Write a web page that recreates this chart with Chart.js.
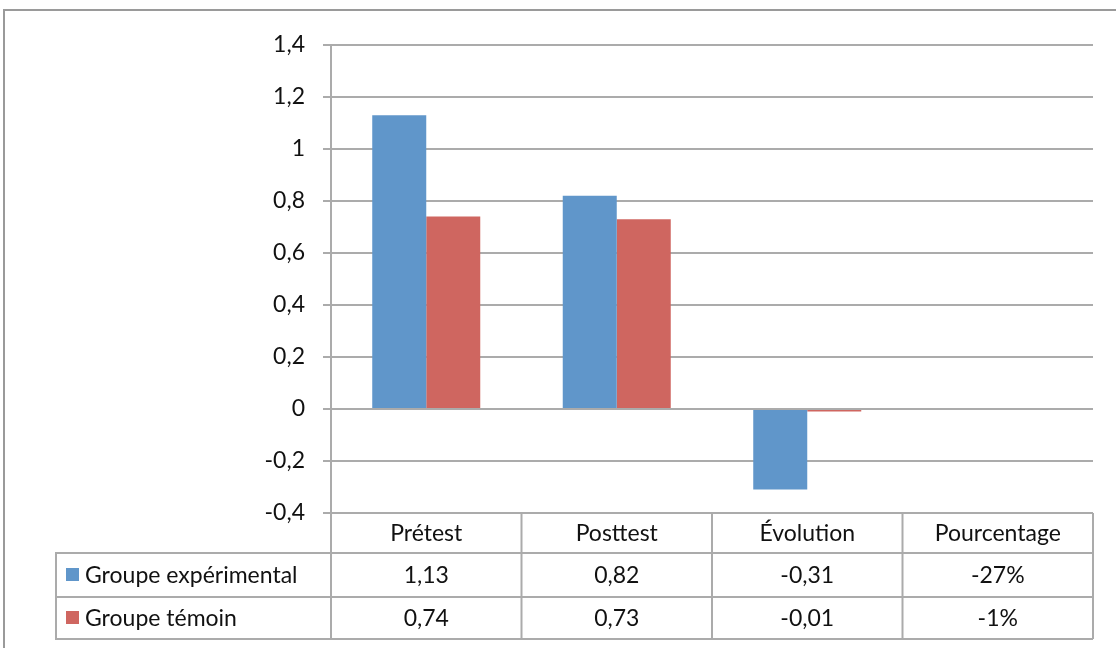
<!DOCTYPE html>
<html><head><meta charset="utf-8">
<script src="https://cdn.jsdelivr.net/npm/chart.js@4"></script>
<style>html,body{margin:0;padding:0;background:#fff;overflow:hidden}#wrap{width:1116px;height:648px;position:relative}</style>
</head><body><div id="wrap"><canvas id="c" width="1116" height="648"></canvas></div>
<script>
const categories = ['Prétest', 'Posttest', 'Évolution', 'Pourcentage'];
const seriesNames = ['Groupe expérimental', 'Groupe témoin'];
const experimental = [1.13, 0.82, -0.31, null];
const temoin = [0.74, 0.73, -0.01, null];
const experimentalTable = ['1,13', '0,82', '-0,31', '-27%'];
const temoinTable = ['0,74', '0,73', '-0,01', '-1%'];
const yTicks = [-0.4, -0.2, 0, 0.2, 0.4, 0.6, 0.8, 1, 1.2, 1.4];

const BLUE = '#6096ca';
const RED = '#cf6660';
const GRID = '#ababab';
const FONT = 'Lato, "Open Sans", sans-serif';
const FSIZE = 23;

const tablePlugin = {
  id: 'dataTable',
  afterDraw(chart) {
    const ctx = chart.ctx;
    const a = chart.chartArea;
    const xs = chart.scales.x;
    const n = categories.length;
    const colW = (a.right - a.left) / n;
    const top = a.bottom;
    const r1 = top + 40, r2 = r1 + 44, r3 = r2 + 42;
    const legLeft = 56;
    ctx.save();
    // outer border
    ctx.strokeStyle = '#9a9a9a';
    ctx.lineWidth = 2;
    ctx.beginPath();
    ctx.moveTo(4, 648); ctx.lineTo(4, 10); ctx.lineTo(1116, 10);
    ctx.stroke();
    // table lines
    ctx.strokeStyle = GRID;
    ctx.lineWidth = 2;
    ctx.beginPath();
    [r1, r2, r3].forEach(y => { ctx.moveTo(legLeft, y); ctx.lineTo(a.right, y); });
    for (let i = 0; i <= n; i++) {
      const x = a.left + i * colW;
      ctx.moveTo(x, top); ctx.lineTo(x, r3);
    }
    ctx.moveTo(legLeft, r1 - 1); ctx.lineTo(legLeft, r3 + 1);
    ctx.stroke();
    // texts
    ctx.fillStyle = '#111';
    ctx.font = FSIZE + 'px ' + FONT;
    ctx.textAlign = 'center';
    ctx.textBaseline = 'middle';
    for (let i = 0; i < n; i++) {
      const cx = xs.getPixelForTick(i);
      ctx.fillText(categories[i], cx, (top + r1) / 2 + 1);
      ctx.fillText(experimentalTable[i], cx, (r1 + r2) / 2 + 1);
      ctx.fillText(temoinTable[i], cx, (r2 + r3) / 2 + 1);
    }
    // legend keys
    const cols = [BLUE, RED];
    const rows = [(r1 + r2) / 2, (r2 + r3) / 2];
    ctx.textAlign = 'left';
    for (let s = 0; s < 2; s++) {
      ctx.fillStyle = cols[s];
      ctx.fillRect(66, rows[s] - 7, 13, 13);
      ctx.fillStyle = '#111';
      ctx.fillText(seriesNames[s], 85, rows[s] + 1);
    }
    ctx.restore();
  }
};

new Chart(document.getElementById('c'), {
  type: 'bar',
  data: {
    labels: categories,
    datasets: [
      { label: seriesNames[0], data: experimental, backgroundColor: BLUE, borderWidth: 0 },
      { label: seriesNames[1], data: temoin, backgroundColor: RED, borderWidth: 0 }
    ]
  },
  options: {
    responsive: false,
    devicePixelRatio: 1,
    animation: false,
    categoryPercentage: 0.567,
    barPercentage: 1,
    layout: { padding: { left: 0, right: 23, top: 45, bottom: 135 } },
    plugins: { legend: { display: false }, tooltip: { enabled: false } },
    scales: {
      x: { display: false },
      y: {
        min: -0.4, max: 1.4,
        afterFit(scale) { scale.width = 331; },
        afterBuildTicks(scale) { scale.ticks = yTicks.map(v => ({ value: v })); },
        grid: { color: GRID, lineWidth: 2, tickLength: 8, drawTicks: true },
        border: { display: true, color: GRID, width: 2 },
        ticks: {
          padding: 18,
          color: '#111',
          font: { family: FONT, size: FSIZE },
          callback: v => String(Number(v.toFixed(1))).replace('.', ',')
        }
      }
    }
  },
  plugins: [tablePlugin]
});
</script>
</body></html>
